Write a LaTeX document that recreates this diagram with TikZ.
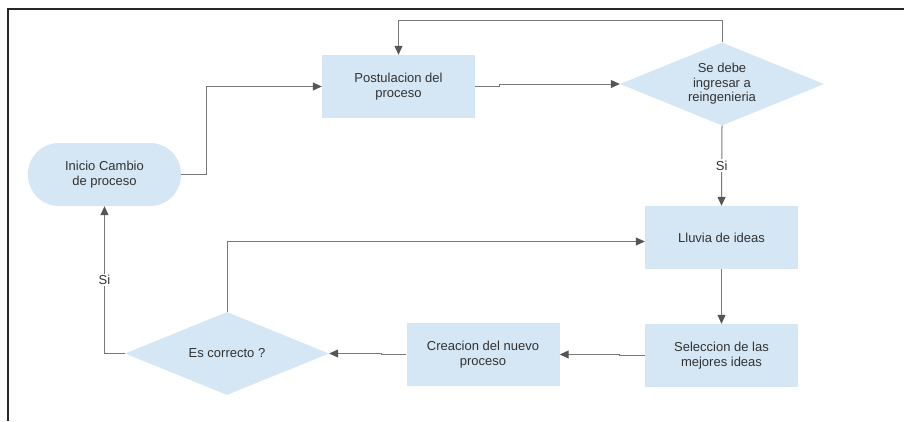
\documentclass[tikz,border=0pt]{standalone}
\usepackage{fontspec}
\setmainfont{Liberation Sans}
\usetikzlibrary{arrows.meta,shapes.geometric}
\definecolor{boxblue}{RGB}{213,230,244}
\definecolor{lineg}{RGB}{120,120,120}
\definecolor{tipg}{RGB}{85,85,85}
\definecolor{txtg}{RGB}{50,50,50}

\begin{document}
\begin{tikzpicture}[x=1pt,y=1pt,yscale=-1,xscale=1,
	procbox/.style={rectangle,fill=boxblue,minimum width=153pt,minimum height=63pt,inner sep=0pt,align=center,text=txtg,font=\fontsize{13}{14.5}\selectfont},
	startbox/.style={procbox,rounded corners=31pt},
	decbox/.style={diamond,fill=boxblue,aspect=2.5,minimum width=204pt,minimum height=83pt,inner sep=0pt,align=center,text=txtg,font=\fontsize{13}{14.5}\selectfont},
	flow/.style={draw=lineg,line width=1pt,-{Triangle[length=9pt,width=8pt,color=tipg]}},
	lbl/.style={fill=white,inner sep=1.5pt,text=txtg,font=\fontsize{13}{14}\selectfont}]
		\useasboundingbox (0,0) rectangle (904,421);
		\draw [line width=1.6pt,color=black!85]  (8,421) -- (8,9) -- (904,9) ;
		\node [startbox] (inicio) at (104.5,174.5) {Inicio Cambio\\de proceso};
		\node [procbox] (postul) at (398.5,86.5) {Postulacion del\\proceso};
		\node [decbox] (reing) at (722,84) {Se debe\\ingresar a\\reingenieria};
		\node [procbox] (lluvia) at (721.5,237.5) {Lluvia de ideas};
		\node [procbox] (selec) at (721.5,355.5) {Seleccion de las\\mejores ideas};
		\node [procbox] (crea) at (483,354.5) {Creacion del nuevo\\proceso};
		\node [decbox] (correcto) at (227,353.5) {Es correcto ?};
		\draw [flow]  (inicio.east) -- ++(25,0) |- (postul.west) ;
		\draw [flow]  (postul.east) -- ++(24,0) |- (reing.west) ;
		\draw [flow]  (reing.north) -- ++(0,-22) -| (postul.north) ;
		\draw [flow]  (reing.south) -- (lluvia.north) node [lbl,pos=0.5] (si1) {Si} ;
		\draw [flow]  (lluvia.south) -- (selec.north) ;
		\draw [flow]  (selec.west) -- ++(-25,0) |- (crea.east) ;
		\draw [flow]  (crea.west) -- ++(-25,0) |- (correcto.east) ;
		\draw [flow]  (correcto.west) -| (inicio.south) node [lbl,pos=0.75] (si2) {Si} ;
		\draw [flow]  (correcto.north) |- ([yshift=4pt]lluvia.west) ;
\end{tikzpicture}
\end{document}
